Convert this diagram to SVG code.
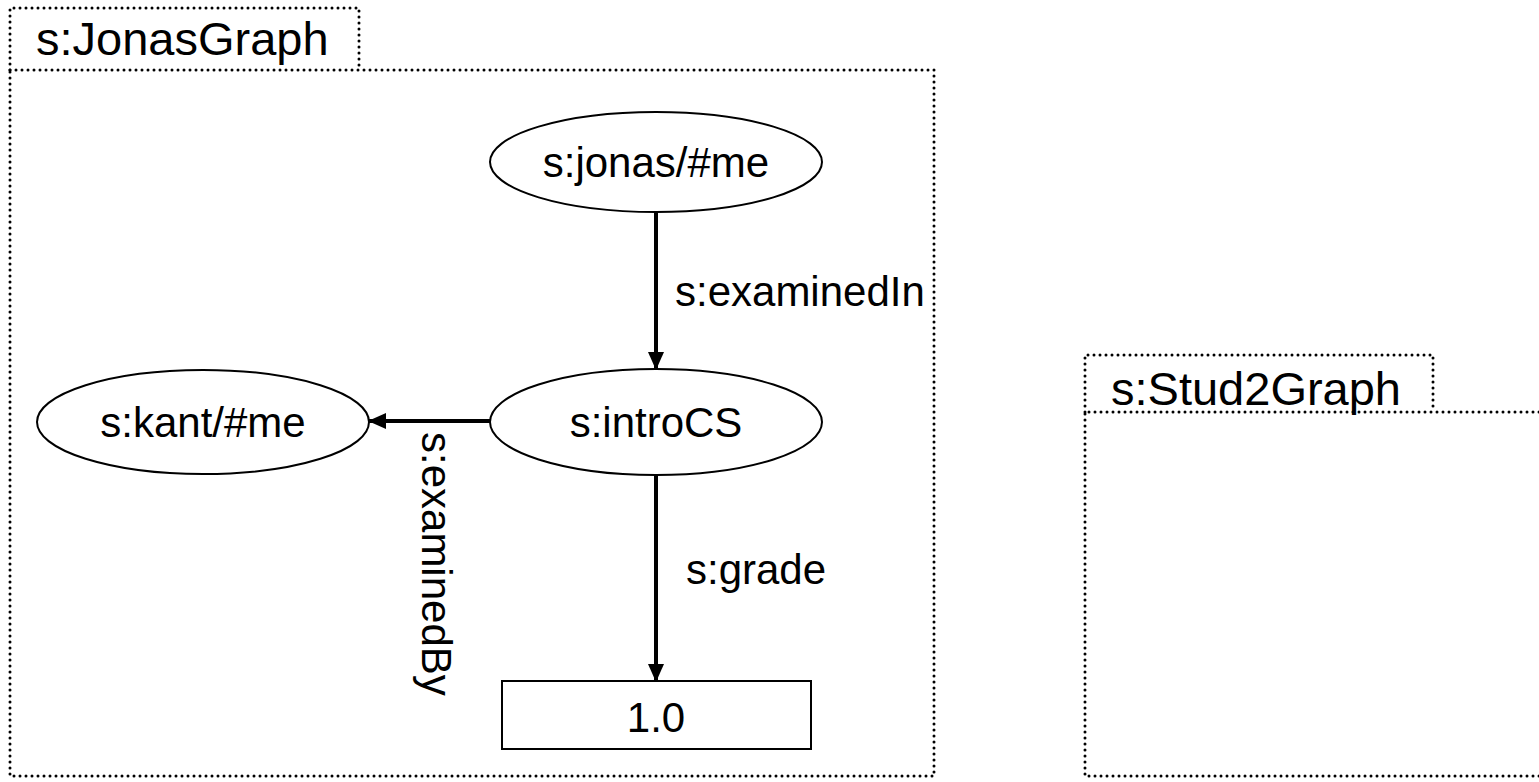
<svg xmlns="http://www.w3.org/2000/svg" width="1539" height="782" viewBox="0 0 1539 782">
<style>
.frame{fill:none;stroke:#000;stroke-width:3;stroke-dasharray:0 6;stroke-linecap:round}
.node{fill:#fff;stroke:#000;stroke-width:2}
.t{font-family:"Liberation Sans",Arial,sans-serif;font-size:42px;fill:#000}
.h{font-size:47px}
.m{text-anchor:middle}
.edge{fill:none;stroke:#000;stroke-width:4}
</style>
<defs>
<marker id="arr" markerUnits="userSpaceOnUse" markerWidth="18" markerHeight="18" viewBox="0 0 18 18" refX="17" refY="9" orient="auto">
<path d="M0,1 L18,9 L0,17 z" fill="#000"/>
</marker>
</defs>
<rect width="1539" height="782" fill="#fff"/>
<g id="JonasGraph">
<path class="frame" d="M10,70 L10,8 L359,8 L359,70"/>
<rect class="frame" x="10" y="70" width="924" height="706"/>
<text class="t h" x="36" y="55">s:JonasGraph</text>
</g>
<g id="Stud2Graph">
<path class="frame" d="M1085,412 L1085,355 L1433,355 L1433,412"/>
<path class="frame" d="M1545,412 L1085,412 L1085,776 L1545,776"/>
<text class="t h" x="1111" y="405">s:Stud2Graph</text>
</g>
<g id="connectors">
<line class="edge" x1="656" y1="212" x2="656" y2="369" marker-end="url(#arr)"/>
<line class="edge" x1="490" y1="421" x2="369" y2="421" marker-end="url(#arr)"/>
<line class="edge" x1="656" y1="475" x2="656" y2="681" marker-end="url(#arr)"/>
<text class="t" x="675" y="306">s:examinedIn</text>
<text class="t" x="686" y="584">s:grade</text>
<text class="t" transform="translate(422,432) rotate(90)">s:examinedBy</text>
</g>
<g id="jonas">
<ellipse class="node" cx="656" cy="162" rx="166" ry="50"/>
<text class="t m" x="656" y="177">s:jonas/#me</text>
</g>
<g id="introCS">
<ellipse class="node" cx="656" cy="422" rx="166" ry="53"/>
<text class="t m" x="656" y="437">s:introCS</text>
</g>
<g id="kant">
<ellipse class="node" cx="203" cy="422" rx="166" ry="52"/>
<text class="t m" x="203" y="437">s:kant/#me</text>
</g>
<g id="grade">
<rect class="node" x="502" y="681" width="309" height="68"/>
<text class="t m" x="656" y="732">1.0</text>
</g>
</svg>
